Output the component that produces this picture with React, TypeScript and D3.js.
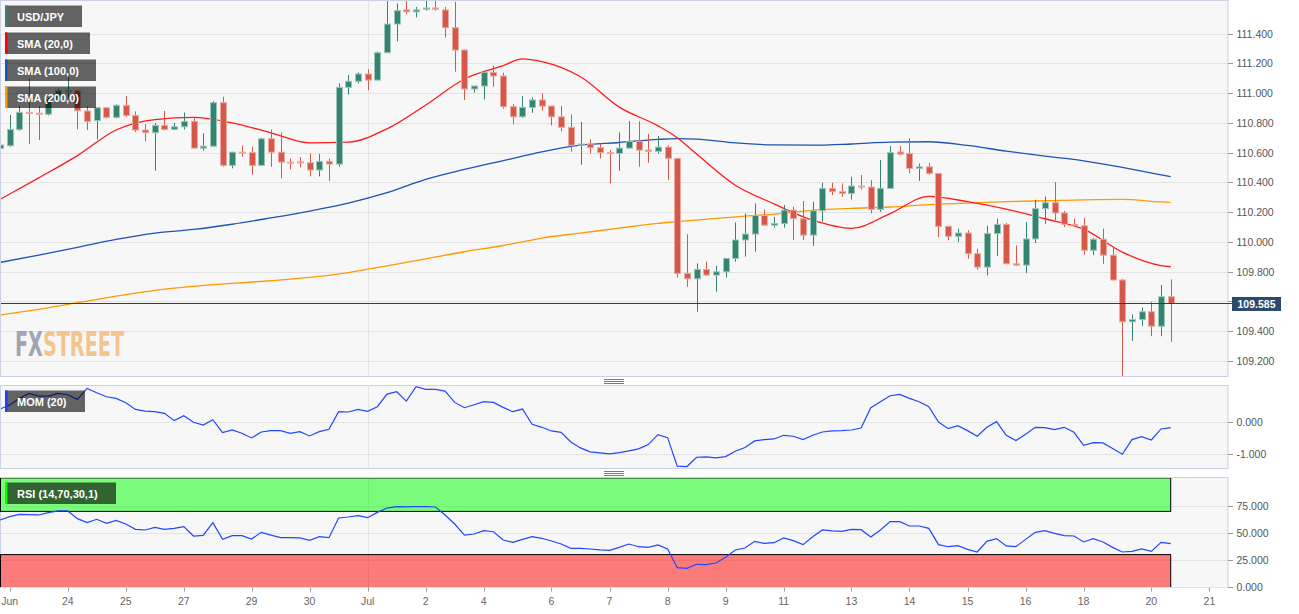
import * as d3 from 'd3';

// USD/JPY 4h candles (index 0 = first visible candle)
const opens = [
  110.628, 110.646, 110.756, 110.871, 110.865, 110.858, 110.96, 111.01, 111.016, 110.88,
  110.815, 110.902, 110.837, 110.918, 110.85, 110.752, 110.734, 110.783, 110.756, 110.774,
  110.81, 110.63, 110.643, 110.936, 110.514, 110.603, 110.6, 110.514, 110.693, 110.603,
  110.536, 110.538, 110.532, 110.483, 110.541, 110.523, 111.039, 111.08, 111.129, 111.088,
  111.272, 111.465, 111.56, 111.547, 111.565, 111.573, 111.56, 111.44, 111.29, 111.028,
  111.048, 111.14, 111.115, 110.909, 110.841, 110.904, 110.954, 110.913, 110.841, 110.77,
  110.649, 110.658, 110.633, 110.6, 110.594, 110.63, 110.676, 110.617, 110.608, 110.637,
  110.561, 109.787, 109.751, 109.814, 109.776, 109.798, 109.888, 110.012, 110.052, 110.177,
  110.112, 110.123, 110.213, 110.155, 110.045, 110.209, 110.359, 110.337, 110.325, 110.375,
  110.368, 110.218, 110.359, 110.604, 110.594, 110.493, 110.504, 110.46, 110.104, 110.037,
  110.059, 109.92, 109.83, 110.055, 110.117, 109.852, 109.843, 110.019, 110.223, 110.263,
  110.194, 110.117, 110.108, 109.943, 110.017, 109.91, 109.743, 109.462, 109.477, 109.529,
  109.432, 109.63,
];
const highs = [
  110.66, 110.853, 110.913, 111.099, 110.913, 110.97, 111.03, 111.11, 111.02, 110.913,
  110.905, 110.905, 110.925, 110.98, 110.877, 110.792, 110.8, 110.88, 110.8, 110.87,
  110.84, 110.73, 110.947, 110.976, 110.605, 110.648, 110.64, 110.7, 110.756, 110.734,
  110.56, 110.57, 110.594, 110.59, 110.56, 111.066, 111.122, 111.14, 111.16, 111.28,
  111.66, 111.604, 111.66, 111.58, 111.66, 111.66, 111.58, 111.615, 111.295, 111.05,
  111.151, 111.185, 111.138, 110.927, 110.98, 110.972, 110.998, 110.915, 110.913, 110.857,
  110.805, 110.689, 110.662, 110.617, 110.736, 110.812, 110.81, 110.725, 110.711, 110.65,
  110.565, 110.05, 109.855, 109.866, 109.839, 109.89, 110.13, 110.191, 110.258, 110.218,
  110.168, 110.247, 110.236, 110.274, 110.27, 110.397, 110.397, 110.393, 110.438, 110.449,
  110.415, 110.55, 110.644, 110.644, 110.696, 110.527, 110.53, 110.46, 110.104, 110.088,
  110.077, 109.954, 110.108, 110.155, 110.126, 109.975, 110.133, 110.283, 110.305, 110.401,
  110.207, 110.155, 110.16, 110.028, 110.088, 109.963, 109.75, 109.511, 109.558, 109.596,
  109.709, 109.747,
];
const lows = [
  110.62, 110.64, 110.747, 110.658, 110.684, 110.85, 110.955, 110.97, 110.756, 110.752,
  110.689, 110.83, 110.83, 110.84, 110.738, 110.676, 110.478, 110.75, 110.75, 110.756,
  110.63, 110.613, 110.64, 110.505, 110.494, 110.572, 110.451, 110.51, 110.505, 110.426,
  110.487, 110.5, 110.44, 110.44, 110.41, 110.505, 110.99, 111.066, 111.021, 111.088,
  111.27, 111.349, 111.53, 111.51, 111.555, 111.555, 111.375, 111.144, 110.954, 111.003,
  110.958, 111.044, 110.895, 110.79, 110.835, 110.868, 110.882, 110.783, 110.743, 110.606,
  110.518, 110.595, 110.561, 110.393, 110.478, 110.63, 110.505, 110.532, 110.595, 110.415,
  109.76, 109.697, 109.529, 109.77, 109.664, 109.76, 109.866, 109.9, 109.933, 110.11,
  110.095, 110.095, 110.012, 110.012, 109.973, 110.135, 110.314, 110.303, 110.285, 110.352,
  110.191, 110.202, 110.355, 110.582, 110.46, 110.41, 110.45, 110.032, 110.01, 109.999,
  109.886, 109.812, 109.774, 109.904, 109.85, 109.838, 109.79, 109.992, 110.121, 110.146,
  110.099, 110.099, 109.914, 109.91, 109.852, 109.74, 109.08, 109.334, 109.432, 109.365,
  109.365, 109.327,
];
const closes = [
  110.651, 110.756, 110.871, 110.865, 110.858, 110.958, 111.016, 111.016, 110.882, 110.81,
  110.902, 110.837, 110.918, 110.85, 110.752, 110.734, 110.783, 110.756, 110.774, 110.81,
  110.63, 110.643, 110.936, 110.514, 110.603, 110.598, 110.514, 110.693, 110.603, 110.536,
  110.532, 110.532, 110.483, 110.541, 110.523, 111.039, 111.08, 111.129, 111.088, 111.272,
  111.465, 111.555, 111.547, 111.56, 111.573, 111.565, 111.44, 111.29, 111.028, 111.048,
  111.14, 111.115, 110.909, 110.841, 110.904, 110.954, 110.913, 110.841, 110.77, 110.649,
  110.658, 110.633, 110.6, 110.594, 110.63, 110.676, 110.617, 110.608, 110.637, 110.561,
  109.787, 109.751, 109.814, 109.776, 109.798, 109.888, 110.012, 110.052, 110.177, 110.112,
  110.123, 110.213, 110.155, 110.045, 110.209, 110.359, 110.337, 110.325, 110.375, 110.368,
  110.218, 110.359, 110.6, 110.59, 110.493, 110.504, 110.46, 110.104, 110.037, 110.059,
  109.92, 109.83, 110.055, 110.117, 109.852, 109.843, 110.019, 110.223, 110.263, 110.194,
  110.117, 110.108, 109.943, 110.017, 109.91, 109.743, 109.462, 109.477, 109.529, 109.432,
  109.63, 109.585,
];

// moving averages, read at these candle indices
const smaIdx = [0, 4, 8, 12, 16, 20, 24, 28, 32, 36, 40, 44, 48, 52, 54, 56, 60, 64, 68, 70, 72, 76, 80, 84, 88, 92, 96, 100, 104, 108, 112, 116, 120, 121];
const sma20 = [
  110.285, 110.43, 110.58, 110.752, 110.822, 110.837, 110.8, 110.733, 110.665, 110.67, 110.76,
  110.92, 111.095, 111.185, 111.23, 111.212, 111.11, 110.906, 110.78, 110.7, 110.59, 110.38, 110.255,
  110.145, 110.09, 110.19, 110.305, 110.27, 110.22, 110.155, 110.085, 109.93, 109.84, 109.832,
];
const sma100 = [
  109.861, 109.91, 109.963, 110.016, 110.059, 110.083, 110.118, 110.161, 110.207, 110.26, 110.33,
  110.42, 110.487, 110.546, 110.576, 110.605, 110.65, 110.668, 110.689, 110.694, 110.691, 110.665, 110.652,
  110.65, 110.658, 110.67, 110.673, 110.648, 110.61, 110.576, 110.545, 110.5, 110.45, 110.438,
];
const sma200 = [
  109.507, 109.546, 109.59, 109.634, 109.673, 109.7, 109.72, 109.738, 109.76, 109.793, 109.838,
  109.885, 109.933, 109.975, 110.0, 110.025, 110.058, 110.092, 110.124, 110.135, 110.146, 110.168, 110.186,
  110.212, 110.225, 110.234, 110.25, 110.26, 110.27, 110.276, 110.282, 110.285, 110.268, 110.265,
];

const mom20 = [
  0.388, 0.51, 0.715, 0.867, 0.786, 0.786, 0.867, 0.827, 0.684, 1.02, 0.888, 0.766, 0.715, 0.582,
  0.378, 0.327, 0.307, 0.256, 0.032, 0.185, -0.019, -0.101, 0.062, -0.335, -0.254, -0.356, -0.498,
  -0.315, -0.274, -0.274, -0.356, -0.305, -0.437, -0.305, -0.233, 0.307, 0.297, 0.378, 0.317, 0.46,
  0.847, 0.918,
  0.632, 1.071, 0.99, 0.99, 0.939, 0.592, 0.429, 0.521, 0.613, 0.592, 0.439, 0.307, 0.388, -0.08,
  -0.172, -0.284, -0.325, -0.621, -0.804, -0.927, -0.957, -0.988, -0.947, -0.896, -0.835, -0.702,
  -0.397, -0.488, -1.365, -1.375, -1.09, -1.08, -1.11, -1.07, -0.906, -0.794, -0.59, -0.55, -0.529,
  -0.417, -0.447, -0.55, -0.417, -0.315, -0.284, -0.274, -0.254, -0.193, 0.429, 0.613, 0.796, 0.837,
  0.714, 0.612, 0.459, -0.009, -0.213, -0.121, -0.274, -0.447, -0.172, 0.001, -0.417, -0.58, -0.386,
  -0.172, -0.182, -0.244, -0.172, -0.325, -0.723, -0.641, -0.651, -0.825, -0.998, -0.549, -0.458,
  -0.56, -0.223, -0.182,
];
const rsi14 = [
  62.0, 65.1, 67.3, 67.0, 66.7, 68.8, 70.4, 70.4, 63.3, 59.6, 62.7, 59.0, 61.7, 58.3, 53.4, 52.8,
  55.2, 53.4, 54.3, 55.9, 47.2, 47.8, 59.6, 44.1, 47.5, 47.5, 44.4, 50.6, 48.1, 45.7, 45.7, 45.4,
  43.2, 46.6, 45.7, 63.9, 64.8, 66.0, 64.2, 69.1, 73.1, 74.4,
  74.1, 74.4, 74.4, 74.1, 66.7, 58.3, 48.1, 49.1, 52.2, 51.2, 43.5, 41.4, 44.1, 46.6, 45.1, 42.6,
  39.8, 35.8, 35.8, 35.2, 34.3, 34.0, 36.7, 39.8, 37.3, 36.7, 38.9, 35.2, 17.9, 17.3, 21.0, 20.7,
  22.2, 27.5, 34.3, 36.1, 42.3, 40.4, 41.0, 45.4, 42.9, 39.2, 46.6, 52.8, 51.9, 51.5, 53.4, 53.1,
  46.3, 52.8, 60.5, 60.5,
  56.5, 56.5, 54.3, 39.2, 37.3, 38.3, 34.9, 32.4, 42.3, 44.8, 38.0, 37.3, 44.1, 50.6, 52.2, 49.7,
  47.5, 47.2, 41.7, 44.8, 41.7, 36.7, 32.4, 33.0, 35.2, 33.0, 41.4, 40.1,
];

const priceTicks = [109.2, 109.4, 109.6, 109.8, 110.0, 110.2, 110.4, 110.6, 110.8, 111.0, 111.2, 111.4];
const momTicks = [0, -1];
const rsiTicks = [0, 25, 50, 75];
const dateLabels = ['Jun', '24', '25', '27', '29', '30', 'Jul', '2', '4', '6', '7', '8', '9', '11', '13', '14', '15', '16', '18', '20', '21'];
const dateIdx = [1, 7, 13, 19, 26, 32, 38, 44, 50, 57, 63, 69, 75, 81, 88, 94, 100, 106, 112, 119, 125];
const monthIdx = [38];
const lastPrice = 109.585;
const rsiUpper = 70;
const rsiLower = 30;

const W = 1299;
const H = 614;
const R = 1228; // right edge of the plot panels
const MAIN = { top: 0.5, bottom: 376.5 };
const MOM = { top: 385.5, bottom: 468.5 };
const RSI = { top: 477.5, bottom: 587.5 };

const GREEN = '#338571';
const RED = '#d65848';
const GRID = '#e3e3e3';
const BORDER = '#c9d1e2';
const FONT = "'Liberation Sans', Arial, sans-serif";
const MARK_FONT = "'DejaVu Sans Condensed', 'Liberation Sans Narrow', sans-serif";

const x = d3.scaleLinear().domain([0, closes.length - 1]).range([0, 1170.7]);
const yPrice = d3.scaleLinear().domain([109.2, 111.4]).range([360.7, 33.7]);
const yMom = d3.scaleLinear().domain([-1, 0]).range([454.3, 421.7]);
const yRsi = d3.scaleLinear().domain([0, 75]).range([587, 506]);

const smaLine = d3
  .line<number>()
  .x((_, i) => x(smaIdx[i]))
  .y((d) => yPrice(d))
  .curve(d3.curveMonotoneX);

const momLine = d3
  .line<number>()
  .x((_, i) => x(i))
  .y((d) => yMom(d));

const rsiLine = d3
  .line<number>()
  .x((_, i) => x(i))
  .y((d) => yRsi(d));

function Legend({ y, w, color, label }: { y: number; w: number; color: string; label: string }) {
  return (
    <g>
      <rect x={5} y={y} width={w} height={21.5} fill="rgba(0,0,0,0.6)" />
      <rect x={5} y={y} width={2.5} height={21.5} fill={color} />
      <text x={17} y={y + 15.5} fill="#fff" fontSize={11} fontWeight="bold" fontFamily={FONT}>
        {label}
      </text>
    </g>
  );
}

function Grip({ y }: { y: number }) {
  return (
    <g stroke="#7a7a7a" strokeWidth={1}>
      {[0, 2, 4].map((d) => (
        <line key={d} x1={604} x2={624} y1={y + d} y2={y + d} />
      ))}
    </g>
  );
}

function Panel({ p }: { p: { top: number; bottom: number } }) {
  return (
    <rect x={0.5} y={p.top} width={R - 0.5} height={p.bottom - p.top} fill="#f7f7f7" stroke={BORDER} />
  );
}

function MonthLines({ p }: { p: { top: number; bottom: number } }) {
  return (
    <g>
      {monthIdx.map((i) => (
        <line key={i} x1={Math.round(x(i)) + 0.5} x2={Math.round(x(i)) + 0.5} y1={p.top} y2={p.bottom} stroke={GRID} />
      ))}
    </g>
  );
}

export default function App() {
  const crisp = (v: number) => Math.round(v) + 0.5;

  return (
    <>
      <style>{'body{margin:0;}'}</style>
      <svg width={W} height={H} viewBox={`0 0 ${W} ${H}`} style={{ display: 'block', background: '#fff' }}>
        <defs>
          <clipPath id="clip-main">
            <rect x={1} y={MAIN.top + 0.5} width={R - 1} height={MAIN.bottom - MAIN.top - 1} />
          </clipPath>
          <clipPath id="clip-mom">
            <rect x={1} y={MOM.top + 0.5} width={R - 1} height={MOM.bottom - MOM.top - 1} />
          </clipPath>
          <clipPath id="clip-rsi">
            <rect x={0} y={RSI.top + 0.5} width={R - 1} height={RSI.bottom - RSI.top - 1} />
          </clipPath>
        </defs>

        {/* main price panel */}
        <Panel p={MAIN} />
        {priceTicks.map((t) => (
          <line key={t} x1={1} x2={R} y1={crisp(yPrice(t))} y2={crisp(yPrice(t))} stroke={GRID} />
        ))}
        <MonthLines p={MAIN} />

        <g clipPath="url(#clip-main)">
          {/* watermark */}
          <text x={15} y={356} fontSize={34} fontWeight="bold" fontFamily={MARK_FONT} textLength={109} lengthAdjust="spacingAndGlyphs">
            <tspan fill="#a2a4b0">FX</tspan>
            <tspan fill="#f4c48e">STREET</tspan>
          </text>

          <path d={smaLine(sma200) || ''} fill="none" stroke="#ff9a00" strokeWidth={1.3} />
          <path d={smaLine(sma100) || ''} fill="none" stroke="#1f52b4" strokeWidth={1.3} />
          <path d={smaLine(sma20) || ''} fill="none" stroke="#ff1a1a" strokeWidth={1.3} />

          {closes.map((c, i) => {
            const o = opens[i];
            const up = c >= o;
            const cx = Math.round(x(i));
            const yTop = yPrice(Math.max(o, c));
            const yBot = yPrice(Math.min(o, c));
            return (
              <g key={i}>
                <line x1={cx + 0.5} x2={cx + 0.5} y1={yPrice(highs[i])} y2={yPrice(lows[i])} stroke={up ? GREEN : RED} strokeWidth={1} />
                <rect
                  x={cx - 2.5}
                  y={yTop}
                  width={6}
                  height={Math.max(1, yBot - yTop)}
                  fill={up ? GREEN : RED}
                  stroke={up ? '#9cc5b9' : '#eca89f'}
                  strokeWidth={1}
                />
              </g>
            );
          })}

          <line x1={0} x2={R} y1={crisp(yPrice(lastPrice))} y2={crisp(yPrice(lastPrice))} stroke="#2b3d58" strokeWidth={1} />
        </g>

        <Legend y={5.5} w={77} color={GREEN} label="USD/JPY" />
        <Legend y={32.5} w={85} color="#ff0000" label="SMA (20,0)" />
        <Legend y={59.5} w={91} color="#1f52b4" label="SMA (100,0)" />
        <Legend y={86.5} w={91} color="#ff9a00" label="SMA (200,0)" />

        {/* price axis */}
        {priceTicks.map((t) => (
          <g key={t}>
            <line x1={R} x2={R + 5} y1={crisp(yPrice(t))} y2={crisp(yPrice(t))} stroke="#9a9a9a" />
            <text x={1236.5} y={yPrice(t) + 4} fontSize={10.5} fill="#555" fontFamily={FONT}>
              {t.toFixed(3)}
            </text>
          </g>
        ))}
        <line x1={R} x2={1232} y1={crisp(yPrice(lastPrice))} y2={crisp(yPrice(lastPrice))} stroke="#2b3d58" />
        <rect x={1232} y={yPrice(lastPrice) - 6.5} width={49} height={14} fill="#2c4a6c" />
        <text x={1256.5} y={yPrice(lastPrice) + 4.2} fontSize={10.5} fontWeight="bold" fill="#fff" textAnchor="middle" fontFamily={FONT}>
          {lastPrice.toFixed(3)}
        </text>

        <Grip y={379.5} />

        {/* momentum panel */}
        <Panel p={MOM} />
        {momTicks.map((t) => (
          <line key={t} x1={1} x2={R} y1={crisp(yMom(t))} y2={crisp(yMom(t))} stroke={GRID} />
        ))}
        <MonthLines p={MOM} />
        <g clipPath="url(#clip-mom)">
          <path d={momLine(mom20) || ''} fill="none" stroke="#2346ff" strokeWidth={1.2} />
        </g>
        <Legend y={390.5} w={80} color="#1f3cff" label="MOM (20)" />
        {momTicks.map((t) => (
          <g key={t}>
            <line x1={R} x2={R + 5} y1={crisp(yMom(t))} y2={crisp(yMom(t))} stroke="#9a9a9a" />
            <text x={1236.5} y={yMom(t) + 4} fontSize={10.5} fill="#555" fontFamily={FONT}>
              {t.toFixed(3)}
            </text>
          </g>
        ))}

        <Grip y={471.5} />

        {/* RSI panel */}
        <Panel p={RSI} />
        {rsiTicks.map((t) => (
          <line key={t} x1={1} x2={R} y1={crisp(yRsi(t))} y2={crisp(yRsi(t))} stroke={GRID} />
        ))}
        <MonthLines p={RSI} />
        <g clipPath="url(#clip-rsi)">
          <rect
            x={0.5}
            y={yRsi(101)}
            width={x(closes.length - 1) - 0.5}
            height={yRsi(rsiUpper) - yRsi(101)}
            fill="rgba(0,255,0,0.5)"
            stroke="#000"
          />
          <rect
            x={0.5}
            y={yRsi(rsiLower)}
            width={x(closes.length - 1) - 0.5}
            height={yRsi(0) - yRsi(rsiLower) + 2}
            fill="rgba(255,0,0,0.5)"
            stroke="#000"
          />
          <path d={rsiLine(rsi14) || ''} fill="none" stroke="#2346ff" strokeWidth={1.2} />
        </g>
        <Legend y={482.5} w={111} color="#00ff00" label="RSI (14,70,30,1)" />
        {rsiTicks.map((t) => (
          <g key={t}>
            <line x1={R} x2={R + 5} y1={crisp(yRsi(t))} y2={crisp(yRsi(t))} stroke="#9a9a9a" />
            <text x={1236.5} y={yRsi(t) + 4} fontSize={10.5} fill="#555" fontFamily={FONT}>
              {t.toFixed(3)}
            </text>
          </g>
        ))}

        {/* date axis */}
        {dateIdx.map((i, k) => (
          <g key={k}>
            <line x1={crisp(x(i))} x2={crisp(x(i))} y1={RSI.bottom} y2={RSI.bottom + 4} stroke="#9a9a9a" />
            <text x={x(i)} y={604.5} fontSize={10.5} fill="#666" textAnchor="middle" fontFamily={FONT}>
              {dateLabels[k]}
            </text>
          </g>
        ))}
      </svg>
    </>
  );
}
